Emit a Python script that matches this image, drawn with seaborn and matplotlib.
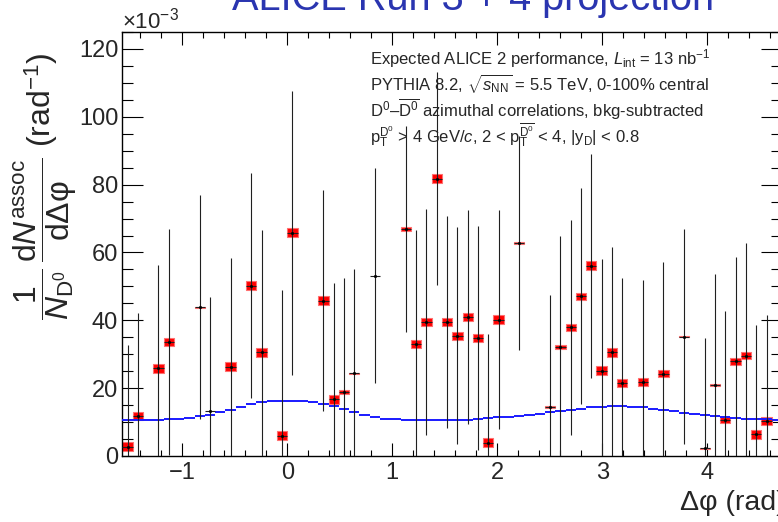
import numpy as np
import pandas as pd
import matplotlib
matplotlib.use("Agg")
import matplotlib.pyplot as plt
import seaborn as sns
from matplotlib.patches import Rectangle
from matplotlib.ticker import MultipleLocator

nan = np.nan

# ---------------- data (y values in units of 1e-3 rad^-1) ----------------
n_bins = 64
x_min, x_max = -np.pi / 2, 3 * np.pi / 2

corr_values = [2.8, 11.8, nan, 25.8, 33.6, nan, nan, 43.8, 13.3, nan,
               26.3, nan, 50.2, 30.6, nan, 6.0, 65.8, nan, nan, 45.8,
               16.7, 19.0, 24.4, nan, 53.2, nan, nan, 66.9, 33.0, 39.5,
               81.8, 39.5, 35.4, 41.0, 34.8, 3.9, 40.2, nan, 62.8, nan,
               nan, 14.4, 32.1, 37.9, 47.1, 56.1, 25.1, 30.6, 21.5, nan,
               21.8, nan, 24.3, nan, 35.2, nan, 2.3, 20.9, 10.6, 27.9,
               29.6, 6.4, 10.3, nan]

stat_err = [30.0, 30.3, nan, 30.6, 33.3, nan, nan, 33.0, 33.5, nan,
            32.1, nan, 33.1, 36.1, nan, 42.8, 41.8, nan, nan, 32.6,
            34.3, 33.5, 30.8, nan, 31.6, nan, nan, 30.3, 33.5, 33.2,
            31.4, 31.2, 32.0, 31.5, 33.0, 32.1, 32.3, nan, 31.6, nan,
            nan, 33.2, 32.9, 31.7, 31.8, 33.0, 33.0, 31.0, 31.0, nan,
            30.2, nan, 33.0, nan, 31.7, nan, 32.4, 32.8, 32.2, 30.7,
            33.2, 32.3, 31.3, nan]

sys_err = [1.3, 1.3, nan, 1.3, 1.3, nan, nan, 0.15, 0.0, nan,
           1.3, nan, 1.3, 1.3, nan, 1.3, 1.3, nan, nan, 1.3,
           1.3, 0.6, 0.2, nan, 0.0, nan, nan, 0.6, 1.3, 1.3,
           1.3, 1.3, 1.3, 1.3, 1.3, 1.3, 1.3, nan, 0.2, nan,
           nan, 0.2, 0.6, 1.0, 1.0, 1.3, 1.3, 1.3, 1.3, nan,
           1.3, nan, 1.0, nan, 0.2, nan, 0.2, 0.2, 1.0, 1.0,
           1.0, 1.3, 1.3, nan]

pythia_baseline = [10.6, 10.6, 10.6, 10.7, 10.8, 10.9, 11.3, 11.7, 12.2, 12.9,
                   13.7, 14.5, 15.3, 15.9, 16.2, 16.3, 16.3, 16.2, 15.9, 15.3,
                   14.6, 13.9, 13.0, 12.1, 11.6, 11.0, 10.8, 10.7, 10.6, 10.6,
                   10.5, 10.5, 10.5, 10.6, 10.9, 11.1, 11.4, 11.6, 11.9, 12.1,
                   12.5, 12.9, 13.3, 13.7, 14.0, 14.3, 14.5, 14.6, 14.6, 14.5,
                   14.3, 14.0, 13.7, 13.2, 12.8, 12.4, 12.0, 11.7, 11.4, 11.2,
                   11.0, 10.9, 10.8, 10.7]

x_ticks = [-1, 0, 1, 2, 3, 4]
y_ticks = [0, 20, 40, 60, 80, 100, 120]

info_lines = [
    r"Expected ALICE 2 performance, $L_{\mathrm{int}}$ = 13 nb$^{\mathrm{-1}}$",
    r"PYTHIA 8.2, $\sqrt{s_{\mathrm{NN}}}$ = 5.5 TeV, 0-100% central",
    r"D$^{\mathrm{0}}$–$\overline{\mathrm{D}^{\mathrm{0}}}$ azimuthal correlations, bkg-subtracted",
    r"$\mathrm{p}_{\mathrm{T}}^{\mathrm{D}^{0}}$ > 4 GeV/$c$, 2 < $\mathrm{p}_{\mathrm{T}}^{\overline{\mathrm{D}^{0}}}$ < 4, |$\mathrm{y}_{\mathrm{D}}$| < 0.8",
]

# ---------------- derived table ----------------
edges = np.linspace(x_min, x_max, n_bins + 1)
centers = 0.5 * (edges[:-1] + edges[1:])
half_w = 0.5 * (edges[1] - edges[0])
df = pd.DataFrame({"dphi": centers, "val": corr_values, "err": stat_err,
                   "sys": sys_err, "base": pythia_baseline})
pts = df.dropna(subset=["val"])

# ---------------- style ----------------
sns.set_theme(style="ticks")
plt.rcParams["font.family"] = ["Liberation Sans", "DejaVu Sans"]
plt.rcParams["mathtext.fontset"] = "custom"
plt.rcParams["mathtext.rm"] = "Liberation Sans"
plt.rcParams["mathtext.it"] = "Liberation Sans:italic"
plt.rcParams["mathtext.bf"] = "Liberation Sans:bold"
plt.rcParams["mathtext.sf"] = "Liberation Sans"

fig = plt.figure(figsize=(7.78, 5.22), dpi=100)
L, R, B, T = 122.4 / 778, 782.0 / 778, 1 - 456 / 522, 1 - 32 / 522
ax = fig.add_axes([L, B, R - L, T - B])

# systematic boxes
for _, r in pts.iterrows():
    if r["sys"] > 0:
        ax.add_patch(Rectangle((r["dphi"] - half_w, r["val"] - r["sys"]),
                               2 * half_w, 2 * r["sys"],
                               facecolor="#ff0000", edgecolor="#ff7070",
                               lw=0.8, zorder=2))

# PYTHIA baseline (blue)
ax.hlines(df["base"], edges[:-1], edges[1:], color="#1a1aff", lw=1.4, zorder=3)

# statistical error bars
ax.errorbar(pts["dphi"], pts["val"], yerr=pts["err"], xerr=half_w,
            fmt="none", ecolor="#202020", elinewidth=0.8, capsize=0, zorder=4)
sns.scatterplot(data=pts, x="dphi", y="val", ax=ax, color="black",
                s=5, linewidth=0, zorder=5, legend=False)

ax.set_xlim(x_min, x_max)
ax.set_ylim(0, 125)
ax.set_xlabel("")
ax.set_ylabel("")
ax.set_xticks(x_ticks)
ax.set_yticks(y_ticks)
ax.xaxis.set_minor_locator(MultipleLocator(0.2))
ax.yaxis.set_minor_locator(MultipleLocator(5))
ax.tick_params(which="both", direction="in", top=True, right=True,
               color="black", width=0.8)
ax.tick_params(axis="x", which="major", length=9.5, labelsize=17, pad=4)
ax.tick_params(axis="x", which="minor", length=4.5)
ax.tick_params(axis="y", which="major", length=15, labelsize=17, pad=3)
ax.tick_params(axis="y", which="minor", length=8)
for s in ax.spines.values():
    s.set_linewidth(1.0)
    s.set_color("black")

# texts
fig.text(122 / 778, 1 - 28 / 522, r"×10$^{\mathrm{-3}}$", fontsize=16,
         ha="left", va="baseline")
fig.text(473 / 778, 1 - 10 / 522, "ALICE Run 3 + 4 projection", fontsize=28.6,
         color="#2a35b0", ha="center", va="baseline")
for k, line in enumerate(info_lines):
    fig.text(370 / 778, 1 - (64 + 26.3 * k) / 522, line, fontsize=12,
             ha="left", va="baseline")
fig.text(786 / 778, 1 - 503 / 522, "Δφ (rad)", fontsize=20.5,
         ha="right", va="center")
fig.text(45 / 778, 1 - 52 / 522,
         r"$\dfrac{1}{N_{\mathrm{D}^{0}}}\,\dfrac{\mathrm{d}N^{\mathrm{assoc}}}{\mathrm{d}\mathrm{\Delta\varphi}}$ (rad$^{\mathrm{-1}}$)",
         fontsize=23, rotation=90, rotation_mode="anchor",
         ha="right", va="center")

fig.savefig("out.png", dpi=100)
